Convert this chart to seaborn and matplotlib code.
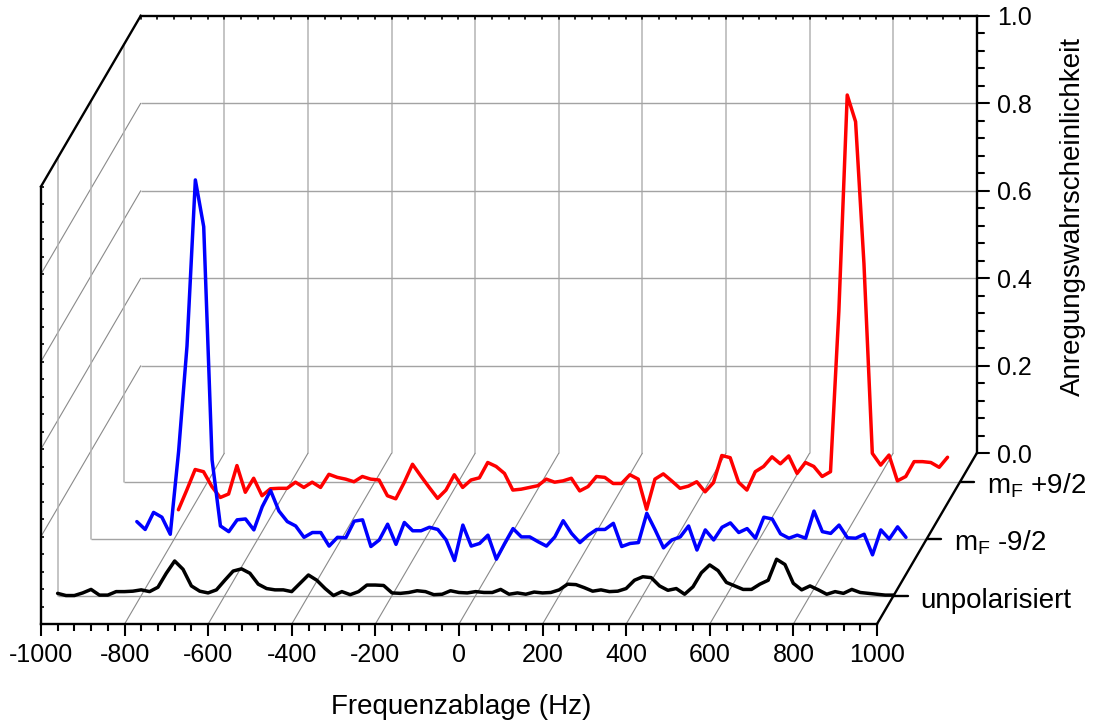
import numpy as np
import matplotlib
matplotlib.use("Agg")
import matplotlib.pyplot as plt
import matplotlib.transforms as mtransforms
from matplotlib.ticker import MultipleLocator
import seaborn as sns

# ---------------- data ----------------
freq_unpol = np.arange(-1000, 1001, 20)
prob_unpol = [0.005, 0.0, 0.0, 0.006, 0.014, 0.001, 0.001, 0.009, 0.009, 0.010,
              0.013, 0.009, 0.019, 0.051, 0.079, 0.060, 0.022, 0.010, 0.006, 0.013,
              0.035, 0.056, 0.061, 0.051, 0.026, 0.016, 0.013, 0.013, 0.009, 0.028,
              0.047, 0.035, 0.016, 0.0, 0.009, 0.002, 0.009, 0.024, 0.024, 0.023,
              0.006, 0.005, 0.007, 0.011, 0.009, 0.002, 0.003, 0.011, 0.007, 0.006,
              0.009, 0.007, 0.007, 0.014, 0.003, 0.006, 0.003, 0.008, 0.006, 0.007,
              0.013, 0.026, 0.025, 0.018, 0.010, 0.013, 0.009, 0.010, 0.016, 0.035,
              0.043, 0.041, 0.022, 0.012, 0.016, 0.003, 0.020, 0.052, 0.070, 0.057,
              0.030, 0.022, 0.014, 0.014, 0.026, 0.035, 0.083, 0.071, 0.028, 0.013,
              0.022, 0.013, 0.003, 0.009, 0.005, 0.014, 0.007, 0.005, 0.003, 0.001,
              0.001]

freq_minus = np.arange(-890, 951, 20)
prob_minus = [0.039, 0.021, 0.060, 0.049, 0.010, 0.20, 0.44, 0.82, 0.713, 0.18,
              0.029, 0.016, 0.043, 0.045, 0.020, 0.073, 0.110, 0.063, 0.039, 0.029,
              0.003, 0.014, 0.014, -0.017, 0.003, 0.002, 0.040, 0.043, -0.018, -0.003,
              0.033, -0.013, 0.037, 0.018, 0.018, 0.026, 0.021, -0.003, -0.050, 0.031,
              -0.017, -0.011, 0.008, -0.047, -0.011, 0.023, 0.004, 0.004, -0.007, -0.017,
              0.004, 0.041, 0.012, -0.009, 0.008, 0.021, 0.021, 0.035, -0.018, -0.011,
              -0.009, 0.058, 0.020, -0.021, -0.003, 0.004, 0.029, -0.026, 0.020, -0.003,
              0.026, 0.036, 0.014, 0.023, 0.001, 0.049, 0.045, 0.011, 0.001, 0.008,
              0.001, 0.063, 0.016, 0.012, 0.031, 0.002, 0.001, 0.010, -0.037, 0.020,
              -0.001, 0.027, 0.003]

freq_plus = np.arange(-870, 971, 20)
prob_plus = [-0.064, -0.019, 0.028, 0.023, -0.011, -0.036, -0.028, 0.037, -0.024, 0.008,
             -0.032, -0.016, -0.015, -0.015, -0.001, -0.013, -0.001, -0.013, 0.017, 0.010,
             0.006, 0.000, 0.012, 0.006, 0.004, -0.032, -0.039, -0.002, 0.040, 0.013,
             -0.013, -0.038, -0.019, 0.016, -0.013, 0.004, 0.009, 0.044, 0.035, 0.019,
             -0.019, -0.017, -0.013, -0.009, 0.006, -0.001, 0.002, 0.008, -0.021, -0.011,
             0.012, 0.010, -0.004, -0.004, 0.016, 0.006, -0.063, 0.006, 0.018, 0.002,
             -0.015, -0.010, 0.000, -0.023, -0.002, 0.060, 0.055, -0.001, -0.019, 0.023,
             0.035, 0.057, 0.041, 0.059, 0.019, 0.044, 0.035, 0.012, 0.023, 0.39,
             0.884, 0.823, 0.499, 0.065, 0.038, 0.061, 0.002, 0.012, 0.046, 0.046,
             0.044, 0.033, 0.056]

series_names = ["unpolarisiert", r"m$_{\mathrm{F}}$ -9/2", r"m$_{\mathrm{F}}$ +9/2"]
series_depth = [1 / 6, 1 / 2, 5 / 6]
series_colors = ["#000000", "#0000ff", "#ff0000"]

x_ticks = list(range(-1000, 1001, 200))
x_tick_labels = [str(v) for v in x_ticks]
z_ticks = [0.0, 0.2, 0.4, 0.6, 0.8, 1.0]
z_tick_labels = ["0.0", "0.2", "0.4", "0.6", "0.8", "1.0"]

# ---------------- style ----------------
sns.set_style("white")
plt.rcParams["font.family"] = ["Liberation Sans", "DejaVu Sans"]
plt.rcParams["mathtext.fontset"] = "custom"
plt.rcParams["mathtext.rm"] = "Liberation Sans"
plt.rcParams["mathtext.it"] = "Liberation Sans:italic"
plt.rcParams["mathtext.bf"] = "Liberation Sans:bold"
plt.rcParams["text.color"] = "black"
plt.rcParams["xtick.color"] = "black"
plt.rcParams["ytick.color"] = "black"
plt.rcParams["xtick.labelcolor"] = "black"

W, H = 1098, 724
fig = plt.figure(figsize=(W / 100, H / 100), dpi=100)
AX_L, AX_B, AX_W, AX_H = 41, 100, 836, 437.5          # front plane, pixels
ax = fig.add_axes([AX_L / W, AX_B / H, AX_W / W, AX_H / H])
ax.set_xlim(-1000, 1000)
ax.set_ylim(0, 1)

HZ_PER_PX = 2000 / AX_W
Z_PER_PX = 1 / AX_H
DEPTH_X = 99.7 * HZ_PER_PX      # oblique depth direction
DEPTH_Z = 170.7 * Z_PER_PX


def P(f, z, d):
    return f + d * DEPTH_X, z + d * DEPTH_Z


def seg(p0, p1, **kw):
    ax.plot([p0[0], p1[0]], [p0[1], p1[1]], clip_on=False, **kw)


GRID = dict(color="#a3a3a3", lw=1.0, zorder=1, solid_capstyle="butt")
FRAME = dict(color="black", lw=1.7, zorder=6, solid_capstyle="projecting")

# back wall grid
for f in x_ticks[1:-1]:
    seg(P(f, 0, 1), P(f, 1, 1), color="#b4b4b4", lw=1.1, zorder=1)
for z in z_ticks[1:-1]:
    seg(P(-1000, z, 1), P(1000, z, 1), **GRID)
# left wall grid
for z in z_ticks[1:-1]:
    seg(P(-1000, z, 0), P(-1000, z, 1), color="#8a8a8a", lw=0.8, zorder=1)
for d in series_depth:
    seg(P(-1000, 0, d), P(-1000, 1, d), color="#b4b4b4", lw=1.1, zorder=1)
    seg(P(-1000, 0, d), P(1000, 0, d), **GRID)
# floor grid
for f in x_ticks[1:-1]:
    seg(P(f, 0, 0), P(f, 0, 1), color="#8a8a8a", lw=0.8, zorder=1)

# frame edges
seg(P(-1000, 1, 0), P(-1000, 1, 1), **FRAME)
seg(P(-1000, 1, 1), P(1000, 1, 1), **FRAME)
seg(P(1000, 0, 1), P(1000, 1, 1), **FRAME)
seg(P(1000, 0, 0), P(1000, 0, 1), **FRAME)

# ticks on the back-right (value) axis
for k in range(26):
    z = k * 0.04
    major = (k % 5 == 0)
    ln = (12 if major else 7) * HZ_PER_PX
    p = P(1000, z, 1)
    seg(p, (p[0] + ln, p[1]), color="black", lw=1.5, zorder=6)
    if major:
        ax.text(p[0] + 20 * HZ_PER_PX, p[1], z_tick_labels[k // 5], fontsize=18,
                ha="left", va="center_baseline", color="black")
# mirror ticks on the top back edge
for f in range(-1000, 1001, 40):
    p = P(f, 1, 1)
    seg(p, (p[0], p[1] - 3 * Z_PER_PX), color="black", lw=1.2, zorder=6)

# depth ticks and series labels
for name, d in zip(series_names, series_depth):
    p = P(1000, 0, d)
    seg(p, (p[0] + 14 * HZ_PER_PX, p[1]), color="black", lw=1.7, zorder=6)
    ax.text(p[0] + 27 * HZ_PER_PX, p[1] - 12 * Z_PER_PX, name, fontsize=20,
            ha="left", va="baseline", color="black")

# data series
series = [(freq_unpol, prob_unpol), (freq_minus, prob_minus), (freq_plus, prob_plus)]
zorders = [5, 4, 3]
for (fx, py), d, c, zo in zip(series, series_depth, series_colors, zorders):
    tr = mtransforms.Affine2D().translate(d * DEPTH_X, d * DEPTH_Z) + ax.transData
    sns.lineplot(x=fx, y=py, ax=ax, color=c, linewidth=2.5, transform=tr,
                 clip_on=False, zorder=zo, errorbar=None, sort=False)

ax.set_xlim(-1000, 1000)
ax.set_ylim(0, 1)

# front axes
for s in ["top", "right"]:
    ax.spines[s].set_visible(False)
for s in ["left", "bottom"]:
    ax.spines[s].set_linewidth(1.7)
    ax.spines[s].set_color("black")
    ax.spines[s].set_zorder(6)
ax.set_xticks(x_ticks)
ax.set_xticklabels(x_tick_labels)
ax.xaxis.set_minor_locator(MultipleLocator(40))
ax.tick_params(axis="x", which="major", direction="out", length=8.6, width=1.5,
               labelsize=18, pad=5, bottom=True, colors="black", labelcolor="black")
ax.tick_params(axis="x", which="minor", direction="out", length=5, width=1.5,
               bottom=True, colors="black")
ax.set_yticks(z_ticks)
ax.yaxis.set_minor_locator(MultipleLocator(0.04))
ax.tick_params(axis="y", which="both", direction="in", length=2.2, width=1.2,
               labelleft=False, left=True, colors="black")
ax.set_xlabel("")
ax.set_ylabel("")

fig.text(461 / W, 1 - 714 / H, "Frequenzablage (Hz)", fontsize=20,
         ha="center", va="baseline", color="black")
fig.text(1073 / W, 1 - 216 / H, "Anregungswahrscheinlichkeit", fontsize=20,
         ha="center", va="center", rotation=90, color="black")

fig.savefig("out.png", dpi=100)
